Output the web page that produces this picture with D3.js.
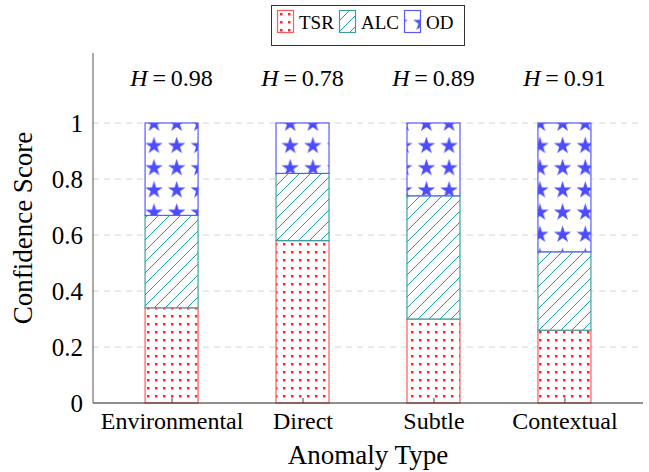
<!DOCTYPE html>
<html>
<head>
<meta charset="utf-8">
<script src="https://cdn.jsdelivr.net/npm/d3@7"></script>
<style>
  body { margin: 0; background: #fff; }
  svg, svg text { font-family: "Liberation Serif", "Tinos", "DejaVu Serif", serif !important; }
</style>
</head>
<body>
<div class="chart"></div>
<script>
// data
const categories = ["Environmental", "Direct", "Subtle", "Contextual"];
const tsr = [0.34, 0.58, 0.30, 0.26];
const alc = [0.33, 0.24, 0.44, 0.28];
const od = [0.33, 0.18, 0.26, 0.46];
const entropy = ["0.98", "0.78", "0.89", "0.91"];
const seriesNames = ["TSR", "ALC", "OD"];
const yTicks = [0, 0.2, 0.4, 0.6, 0.8, 1];

const width = 649, height = 472;
const margin = {top: 53, right: 6, bottom: 69, left: 93};

const rows = categories.map((c, i) => ({cat: c, TSR: tsr[i], ALC: alc[i], OD: od[i]}));
const stacked = d3.stack().keys(seriesNames)(rows);

const x = d3.scalePoint()
    .domain(categories)
    .range([margin.left, width - margin.right])
    .padding(0.6);
const y = d3.scaleLinear()
    .domain([0, 1.25])
    .range([height - margin.bottom, margin.top]);
const barW = 53;

const svg = d3.select(".chart").append("svg")
    .attr("width", width)
    .attr("height", height)
    .attr("viewBox", [0, 0, width, height]);

// patterns
const defs = svg.append("defs");
const dots = defs.append("pattern").attr("id", "p-tsr")
    .attr("patternUnits", "userSpaceOnUse")
    .attr("width", 8).attr("height", 8);
dots.append("rect").attr("x", 3).attr("y", 3).attr("width", 2.5).attr("height", 2.5)
    .attr("fill", "#ff2a2a");

const hatch = defs.append("pattern").attr("id", "p-alc")
    .attr("patternUnits", "userSpaceOnUse")
    .attr("width", 11).attr("height", 11);
hatch.append("path")
    .attr("d", "M-2,2 L2,-2 M0,11 L11,0 M9,13 L13,9")
    .attr("stroke", "#1c9e9e").attr("stroke-width", 1).attr("fill", "none");

const stars = defs.append("pattern").attr("id", "p-od")
    .attr("patternUnits", "userSpaceOnUse")
    .attr("x", 154 - 11.35).attr("y", 145 - 11.1)
    .attr("width", 22.7).attr("height", 22.2);
stars.append("path")
    .attr("d", d3.symbol(d3.symbolStar, 95)())
    .attr("transform", "translate(11.35,11.9)")
    .attr("fill", "#4d4dff");

const colors = {TSR: "#ff5a5a", ALC: "#3f9f9f", OD: "#5a5aff"};

// grid
svg.append("g")
    .selectAll("line")
    .data(yTicks.filter(d => d > 0))
    .join("line")
    .attr("x1", margin.left).attr("x2", width - margin.right)
    .attr("y1", d => y(d)).attr("y2", d => y(d))
    .attr("stroke", "#d4d4d4")
    .attr("stroke-dasharray", "6,5");

// bars
const layer = svg.append("g")
    .selectAll("g")
    .data(stacked)
    .join("g");
layer.selectAll("rect.bg")
    .data(d => d.map(v => ({v, key: d.key})))
    .join("rect")
    .attr("x", (d, i) => x(categories[i]) - barW / 2)
    .attr("y", d => y(d.v[1]))
    .attr("width", barW)
    .attr("height", d => y(d.v[0]) - y(d.v[1]))
    .attr("fill", "#fff");
layer.selectAll("rect.fg")
    .data(d => d.map(v => ({v, key: d.key})))
    .join("rect")
    .attr("x", (d, i) => x(categories[i]) - barW / 2)
    .attr("y", d => y(d.v[1]))
    .attr("width", barW)
    .attr("height", d => y(d.v[0]) - y(d.v[1]))
    .attr("fill", d => `url(#p-${d.key.toLowerCase()})`)
    .attr("stroke", d => colors[d.key])
    .attr("stroke-width", 1.2);

// axes
const xAxis = svg.append("g")
    .attr("transform", `translate(0,${height - margin.bottom})`)
    .call(d3.axisBottom(x).tickSize(-5).tickPadding(9));
xAxis.attr("font-family", null);
xAxis.select(".domain").attr("d", `M${margin.left},0H${width - margin.right}`).attr("stroke", "#222");
xAxis.selectAll(".tick line").attr("stroke", "#444");
xAxis.selectAll("text").attr("font-size", 24).attr("fill", "#000");

const yAxis = svg.append("g")
    .attr("transform", `translate(${margin.left},0)`)
    .call(d3.axisLeft(y).tickValues(yTicks).tickFormat(d3.format("")).tickSize(0).tickPadding(10));
yAxis.attr("font-family", null);
yAxis.select(".domain").attr("d", `M0,${margin.top}V${height - margin.bottom}`).attr("stroke", "#555");
yAxis.selectAll("text").attr("font-size", 25).attr("fill", "#000");

// axis titles
svg.append("text")
    .attr("x", (margin.left + width - margin.right) / 2)
    .attr("y", 464)
    .attr("text-anchor", "middle")
    .attr("font-size", 27)
    .text("Anomaly Type");
svg.append("text")
    .attr("transform", `translate(32,${(margin.top + height - margin.bottom) / 2}) rotate(-90)`)
    .attr("text-anchor", "middle")
    .attr("font-size", 27)
    .text("Confidence Score");

// entropy labels
const hl = svg.append("g")
    .selectAll("text")
    .data(entropy)
    .join("text")
    .attr("x", (d, i) => x(categories[i]))
    .attr("y", 86)
    .attr("text-anchor", "middle")
    .attr("font-size", 24);
hl.append("tspan").attr("font-style", "italic").text("H");
hl.append("tspan").text(d => "\u2009=\u2009" + d);

// legend
const lg = svg.append("g");
lg.append("rect")
    .attr("x", 271.5).attr("y", 5.5).attr("width", 193).attr("height", 40)
    .attr("fill", "#fff").attr("stroke", "#333").attr("stroke-width", 1);
const legendX = [277, 339, 404];
const item = lg.selectAll("g")
    .data(seriesNames)
    .join("g")
    .attr("transform", (d, i) => `translate(${legendX[i]},10)`);
item.append("rect")
    .attr("x", 0.5).attr("y", 0.5).attr("width", 16).attr("height", 22)
    .attr("fill", d => `url(#p-${d.toLowerCase()})`)
    .attr("stroke", d => colors[d]).attr("stroke-width", 1.2);
item.append("text")
    .attr("x", 22).attr("y", 19)
    .attr("font-size", 19)
    .text(d => d);
</script>
</body>
</html>
